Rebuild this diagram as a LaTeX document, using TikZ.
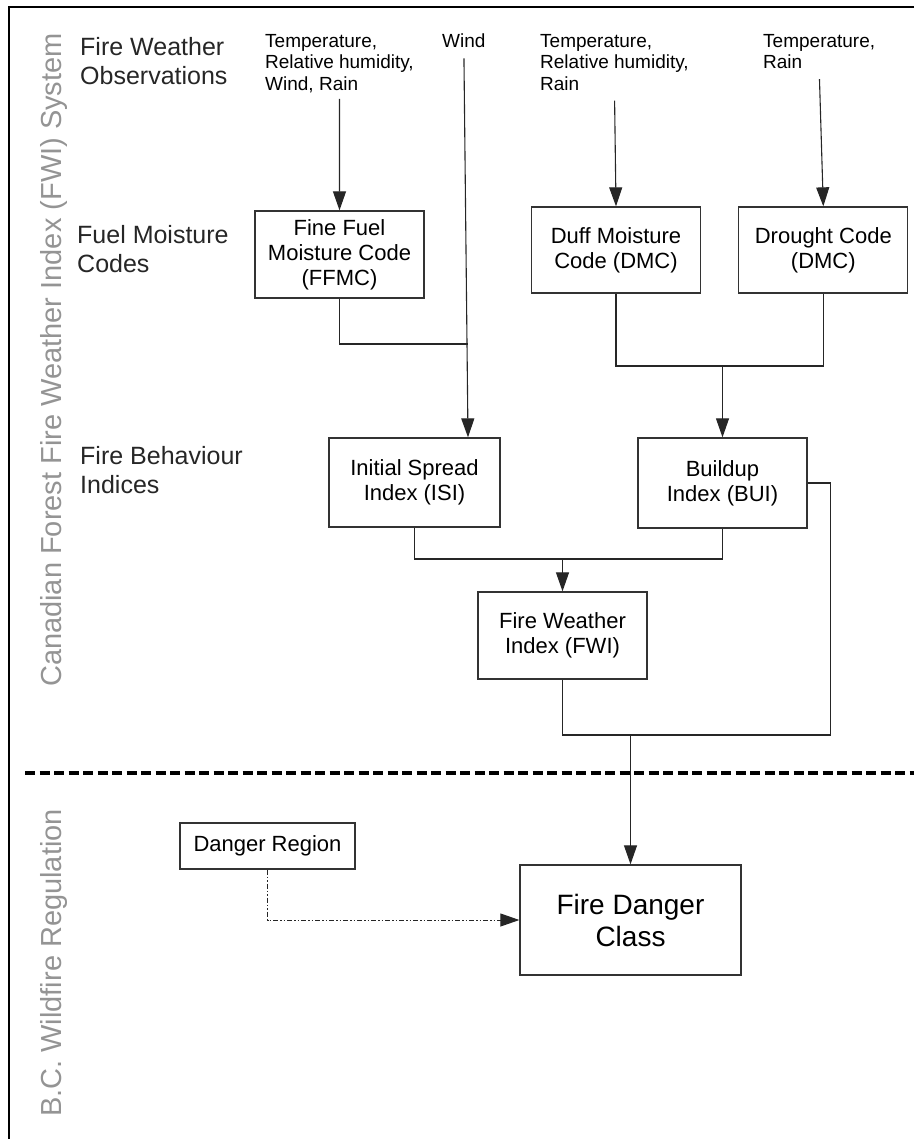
\documentclass[tikz,border=0pt]{standalone}
\usepackage{fontspec}
\setmainfont{Liberation Sans}
\usetikzlibrary{arrows.meta,positioning}

\tikzset{
  fwibox/.style={draw=black!80, line width=1.3pt, minimum width=169pt, minimum height=87pt,
    align=center, inner sep=2pt, font=\fontsize{22}{25}\selectfont},
  obs/.style={anchor=north west, inner sep=0pt, align=left, font=\fontsize{19}{21.5}\selectfont},
  level/.style={anchor=north west, inner sep=0pt, align=left, text=black!85,
    font=\fontsize{25}{29}\selectfont},
  system/.style={anchor=base, rotate=90, inner sep=0pt, text=black!42,
    font=\fontsize{29}{33}\selectfont},
  link/.style={line width=1.1pt, draw=black!85},
  regionlink/.style={line width=1pt, draw=black!85,
    dash pattern=on 5pt off 2pt on 1.5pt off 2pt on 1.5pt off 2pt},
}

\begin{document}
\begin{tikzpicture}[x=1pt,y=-1pt,>={Triangle[length=19pt,width=13pt]}]
 \useasboundingbox (0,0) rectangle (914,1139);
 % frame
 \draw[line width=2pt] (914,7) -- (9,7) -- (9,1139);

 % side titles
 \node[system] (sysfwi) at (61,360) {Canadian Forest Fire Weather Index (FWI) System};
 \node[system] (sysbc) at (61,963) {B.C. Wildfire Regulation};

 % levels
 \node[level] (lblobs) at (80,37) {Fire Weather\\Observations};
 \node[level] (lblfuel) at (77,225) {Fuel Moisture\\Codes};
 \node[level] (lblbehav) at (80,446) {Fire Behaviour\\Indices};

 % observations
 \node[obs] (obsA) at (265,34) {Temperature,\\Relative humidity,\\Wind, Rain};
 \node[obs] (wind) at (442,34) {Wind};
 \node[obs] (obsB) at (540,34) {Temperature,\\Relative humidity,\\Rain};
 \node[obs] (obsC) at (763,34) {Temperature,\\Rain};

 % codes and indices
 \node[fwibox] (ffmc) at (339.5,254.5) {Fine Fuel\\Moisture Code\\(FFMC)};
 \node[fwibox, minimum height=86pt] (dmc) at (616,250) {Duff Moisture\\Code (DMC)};
 \node[fwibox, minimum height=86pt, right=37pt of dmc] (dc) {Drought Code\\(DMC)};
 \node[fwibox, minimum width=171pt, minimum height=89pt] (isi) at (414.5,482.5) {Initial Spread\\Index (ISI)};
 \node[fwibox, minimum height=90pt] (bui) at (722.5,483) {Buildup\\Index (BUI)};
 \node[fwibox] (fwi) at (562.5,635.5) {Fire Weather\\Index (FWI)};

 % regulation
 \node[fwibox, minimum width=175pt, minimum height=46pt] (region) at (267.5,846) {Danger Region};
 \node[fwibox, minimum width=221pt, minimum height=110pt,
   font=\fontsize{28}{32}\selectfont] (fdc) at (630.5,920) {Fire Danger\\Class};

 % joins
 \coordinate (windjoin) at (468,344);
 \coordinate (buijoin) at (722.5,366);
 \coordinate (fwijoin) at (562.5,559);
 \coordinate (fdcjoin) at (630.5,735);

 \draw[link,->,shorten <=6pt] (obsA.south) -- (ffmc.north);
 \draw[link,->,shorten <=10pt] (wind.south) -- ([xshift=53.5pt]isi.north);
 \draw[link,->,shorten <=10pt] (obsB.south) -- (dmc.north);
 \draw[link,->,shorten <=10pt] (obsC.south) -- (dc.north);

 \draw[link] (ffmc.south) |- (windjoin);
 \draw[link] (dmc.south) |- (buijoin) -| (dc.south);
 \draw[link,->] (buijoin) -- (bui.north);
 \draw[link] (isi.south) |- (fwijoin) -| (bui.south);
 \draw[link,->] (fwijoin) -- (fwi.north);
 \draw[link] (fwi.south) |- (fdcjoin);
 \draw[link] (bui.east) -- ++(23,0) |- (fdcjoin);
 \draw[link,->] (fdcjoin) -- (fdc.north);
 \draw[regionlink,->] (region.south) |- (fdc.west);

 % separator
 \draw[line width=4.5pt, dash pattern=on 10pt off 4.5pt] (25,773) -- (914,773);
\end{tikzpicture}
\end{document}
